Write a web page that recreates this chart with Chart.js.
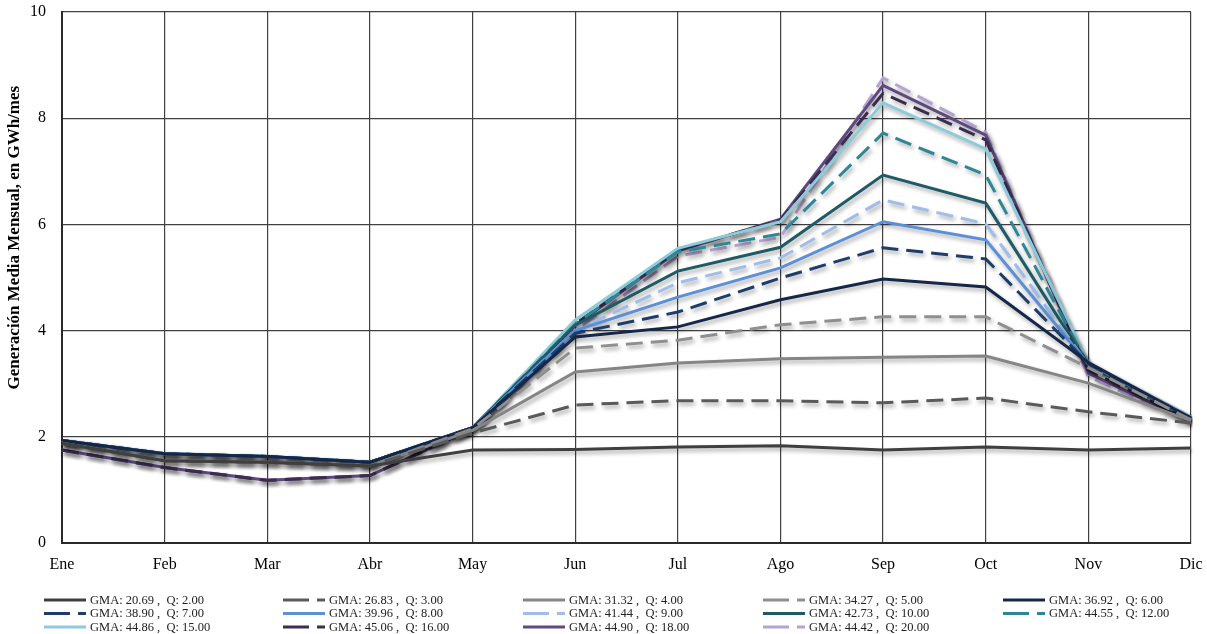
<!DOCTYPE html>
<html lang="es">
<head>
<meta charset="utf-8">
<title>Generación Media Mensual</title>
<script src="https://cdn.jsdelivr.net/npm/chart.js@4.4.1/dist/chart.umd.min.js"></script>
<style>
  html, body { margin: 0; padding: 0; background: #ffffff; }
  #wrap { width: 1207px; height: 634px; }
</style>
</head>
<body>
<div id="wrap"><canvas id="chart" width="1207" height="634"></canvas></div>
<script>
// Months on the x axis
const months = ['Ene', 'Feb', 'Mar', 'Abr', 'May', 'Jun', 'Jul', 'Ago', 'Sep', 'Oct', 'Nov', 'Dic'];

// Y axis ticks (GWh/mes)
const yTicks = [0, 2, 4, 6, 8, 10];
const yTitle = 'Generación Media Mensual, en GWh/mes';

// Design flow Q and mean annual generation GMA for each curve
const qValues   = [2, 3, 4, 5, 6, 7, 8, 9, 10, 12, 15, 16, 18, 20];
const gmaValues = [20.69, 26.83, 31.32, 34.27, 36.92, 38.90, 39.96, 41.44, 42.73, 44.55, 44.86, 45.06, 44.90, 44.42];

// Monthly mean generation, GWh/mes, one array per Q
const genQ2  = [1.88, 1.55, 1.52, 1.45, 1.75, 1.76, 1.81, 1.83, 1.75, 1.81, 1.75, 1.79];
const genQ3  = [1.88, 1.55, 1.52, 1.45, 2.07, 2.60, 2.68, 2.68, 2.64, 2.73, 2.47, 2.26];
const genQ4  = [1.88, 1.55, 1.52, 1.45, 2.12, 3.22, 3.39, 3.47, 3.50, 3.52, 3.01, 2.30];
const genQ5  = [1.88, 1.55, 1.52, 1.45, 2.15, 3.67, 3.82, 4.11, 4.26, 4.26, 3.30, 2.32];
const genQ6  = [1.93, 1.68, 1.63, 1.52, 2.17, 3.88, 4.07, 4.58, 4.97, 4.82, 3.40, 2.35];
const genQ7  = [1.93, 1.68, 1.63, 1.52, 2.17, 3.95, 4.35, 4.99, 5.56, 5.35, 3.38, 2.35];
const genQ8  = [1.93, 1.68, 1.63, 1.52, 2.17, 4.00, 4.63, 5.18, 6.05, 5.71, 3.37, 2.35];
const genQ9  = [1.93, 1.68, 1.63, 1.52, 2.17, 4.00, 4.90, 5.37, 6.46, 6.01, 3.36, 2.35];
const genQ10 = [1.93, 1.68, 1.63, 1.52, 2.17, 4.10, 5.12, 5.57, 6.93, 6.40, 3.35, 2.35];
const genQ12 = [1.93, 1.68, 1.63, 1.52, 2.17, 4.12, 5.48, 5.82, 7.72, 6.93, 3.35, 2.36];
const genQ15 = [1.93, 1.68, 1.63, 1.52, 2.17, 4.20, 5.55, 6.05, 8.29, 7.42, 3.39, 2.37];
const genQ16 = [1.75, 1.42, 1.18, 1.27, 2.15, 4.12, 5.52, 6.08, 8.47, 7.59, 3.25, 2.30];
const genQ18 = [1.75, 1.42, 1.18, 1.27, 2.15, 4.10, 5.50, 6.10, 8.62, 7.68, 3.20, 2.28];
const genQ20 = [1.75, 1.42, 1.18, 1.27, 2.12, 4.00, 5.40, 5.76, 8.76, 7.74, 3.13, 2.28];

const seriesValues = [genQ2, genQ3, genQ4, genQ5, genQ6, genQ7, genQ8, genQ9, genQ10, genQ12, genQ15, genQ16, genQ18, genQ20];

// Line styles for each curve
const lineColors = ['#3f3f3f', '#5a5a5a', '#858585', '#8f8f8f', '#15284a', '#1d3d6a', '#5b8fd8', '#9ebde9',
                    '#1e5b66', '#2f8796', '#8ccbda', '#3a2d4f', '#5e4a80', '#b5a4d2'];
const dashed = [false, true, false, true, false, true, false, true, false, true, false, true, false, true];

const SERIF = '"Liberation Serif", "Times New Roman", serif';
const DASH = [17, 8];

const datasets = seriesValues.map((vals, i) => ({
  label: 'GMA: ' + gmaValues[i].toFixed(2) + ' ,  Q: ' + qValues[i].toFixed(2),
  data: vals,
  borderColor: lineColors[i],
  backgroundColor: lineColors[i],
  borderWidth: 3,
  borderDash: dashed[i] ? DASH : [],
  pointRadius: 0,
  pointHoverRadius: 0,
  tension: 0,
  fill: false
}));

// Soft drop shadow under the curves
const lineShadow = {
  id: 'lineShadow',
  beforeDatasetsDraw(chart) {
    const ctx = chart.ctx;
    ctx.save();
    ctx.shadowColor = 'rgba(0,0,0,0.35)';
    ctx.shadowBlur = 4;
    ctx.shadowOffsetX = 2;
    ctx.shadowOffsetY = 3;
  },
  afterDatasetsDraw(chart) {
    chart.ctx.restore();
  }
};

// Rotated y axis title, sitting a little above the middle of the axis
const axisTitle = {
  id: 'axisTitle',
  afterDraw(chart) {
    const ctx = chart.ctx;
    const area = chart.chartArea;
    ctx.save();
    ctx.translate(15, area.top + (area.bottom - area.top) * 0.425);
    ctx.rotate(-Math.PI / 2);
    ctx.font = 'bold 17px ' + SERIF;
    ctx.fillStyle = '#000';
    ctx.textAlign = 'center';
    ctx.textBaseline = 'middle';
    ctx.fillText(yTitle, 0, 0);
    ctx.restore();
  }
};

// Five-column legend below the x axis
const gridLegend = {
  id: 'gridLegend',
  afterDraw(chart) {
    const ctx = chart.ctx;
    const colX = [44, 283, 523, 763, 1003];
    const rowY = [600, 613.5, 627];
    const lineLen = 42;
    ctx.save();
    ctx.font = '12.5px ' + SERIF;
    ctx.textBaseline = 'middle';
    ctx.textAlign = 'left';
    chart.data.datasets.forEach((ds, i) => {
      const x = colX[i % 5];
      const y = rowY[Math.floor(i / 5)];
      ctx.strokeStyle = ds.borderColor;
      ctx.lineWidth = 3;
      ctx.lineCap = 'butt';
      ctx.setLineDash(ds.borderDash && ds.borderDash.length ? [26, 8, 8, 8] : []);
      ctx.beginPath();
      ctx.moveTo(x, y);
      ctx.lineTo(x + lineLen, y);
      ctx.stroke();
      ctx.setLineDash([]);
      ctx.fillStyle = '#222222';
      ctx.fillText(ds.label, x + lineLen + 4, y + 0.5);
    });
    ctx.restore();
  }
};

new Chart(document.getElementById('chart'), {
  type: 'line',
  data: { labels: months, datasets },
  options: {
    responsive: false,
    animation: false,
    events: [],
    layout: { padding: { left: 0, right: 0, top: 0, bottom: 57 } },
    plugins: {
      legend: { display: false },
      tooltip: { enabled: false },
      title: { display: false }
    },
    scales: {
      x: {
        offset: false,
        grid: { color: '#404040', lineWidth: 1.2, drawTicks: false },
        border: { color: '#2a2a2a', width: 2 },
        ticks: { color: '#000', font: { family: SERIF, size: 16 }, padding: 12, maxRotation: 0, autoSkip: false },
        afterFit(scale) {
          scale.height = 34;
          scale.paddingLeft = 0;
          scale.paddingRight = 16;
        }
      },
      y: {
        min: 0,
        max: 10,
        afterBuildTicks(scale) { scale.ticks = yTicks.map(v => ({ value: v })); },
        grid: { color: '#404040', lineWidth: 1.2, drawTicks: false },
        border: { color: '#2a2a2a', width: 2 },
        ticks: { color: '#000', font: { family: SERIF, size: 16 }, padding: 16 },
        afterFit(scale) {
          scale.width = 62;
          scale.paddingTop = 12;
          scale.paddingBottom = 0;
        }
      }
    }
  },
  plugins: [lineShadow, axisTitle, gridLegend]
});
</script>
</body>
</html>
